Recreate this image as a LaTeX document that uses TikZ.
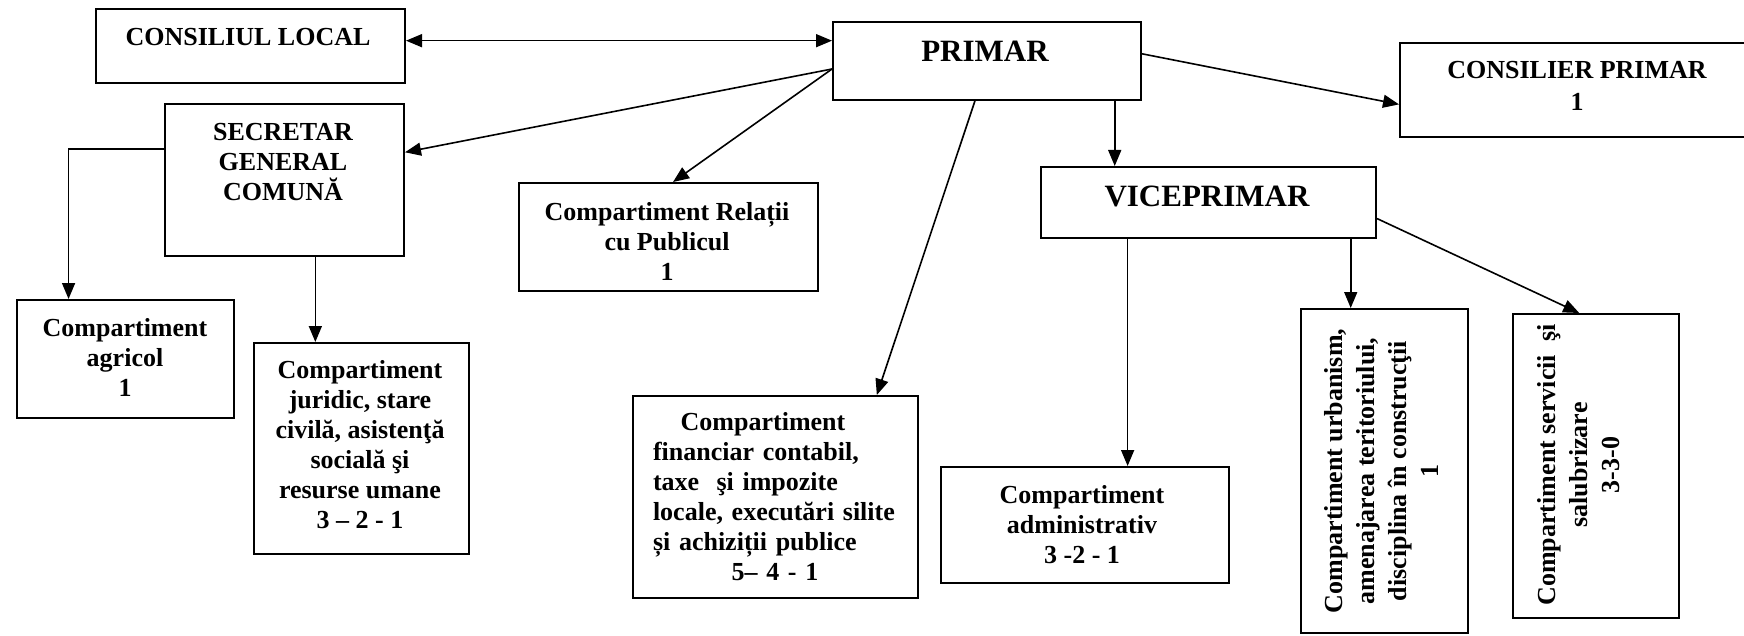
\documentclass[tikz,border=0pt]{standalone}
\usepackage{fontspec}
\setmainfont{Liberation Serif}
\usetikzlibrary{arrows.meta,calc}
\begin{document}
\begin{tikzpicture}[x=0.5pt,y=-0.5pt,
  box/.style={draw, line width=1pt, inner sep=0pt, anchor=north west},
  txt/.style={font=\bfseries\fontsize{13}{15}\selectfont, align=center, inner sep=0pt},
  txtv/.style={font=\bfseries\fontsize{13}{16}\selectfont, align=center, inner sep=0pt},
  big/.style={font=\bfseries\fontsize{15.5}{18}\selectfont, inner sep=0pt},
  conn/.style={line width=0.8pt},
  arr/.style={conn, -{Triangle[length=8pt,width=6.5pt]}},
  biarr/.style={conn, {Triangle[length=8pt,width=6.5pt]}-{Triangle[length=8pt,width=6.5pt]}}]
\useasboundingbox (0,0) rectangle (1744,636);
\clip (0,0) rectangle (1744,636);
% boxes
\node[box, minimum width=154.5pt, minimum height=37pt] (cl) at (95,8) {};
\node[box, minimum width=154pt, minimum height=39pt] (pr) at (832,21) {};
\node[box, minimum width=185pt, minimum height=47pt] (cp) at (1399,42) {};
\node[box, minimum width=119.5pt, minimum height=76pt] (sec) at (164,103) {};
\node[box, minimum width=149.5pt, minimum height=54pt] (rel) at (518,182) {};
\node[box, minimum width=167.5pt, minimum height=35.5pt] (vice) at (1040,166) {};
\node[box, minimum width=108.5pt, minimum height=59pt] (agr) at (16,299) {};
\node[box, minimum width=107.5pt, minimum height=105.5pt] (jur) at (253,342) {};
\node[box, minimum width=142.5pt, minimum height=101pt] (fin) at (632,395) {};
\node[box, minimum width=144pt, minimum height=58pt] (adm) at (940,466) {};
\node[box, minimum width=83.5pt, minimum height=162pt] (urb) at (1300,308) {};
\node[box, minimum width=83pt, minimum height=152pt] (srv) at (1512,313) {};
% texts
\node[txt] (clT) at (248,37) {CONSILIUL LOCAL};
\node[big] (prT) at (985,51) {PRIMAR};
\node[txtv] (cpT) at (1577,86) {CONSILIER PRIMAR\\1};
\node[txt] (secT) at (283,162) {SECRETAR\\GENERAL\\COMUNĂ};
\node[txt] (relT) at (667,241) {Compartiment Relații\\cu Publicul\\1};
\node[big] (viceT) at (1207,196) {VICEPRIMAR};
\node[txt] (agrT) at (125,357) {Compartiment\\agricol\\1};
\node[txt] (jurT) at (360,445) {Compartiment\\juridic, stare\\civilă, asistenţă\\socială şi\\resurse umane\\3 – 2 - 1};
\node[txt, align=left, text width=122pt] (finT) at (775,497) {\makebox[122pt]{Compartiment\hspace*{12pt}}\\financiar contabil,\\taxe~ şi impozite\\locale, executări silite\\și achiziții publice\\\makebox[122pt]{5– 4 - 1}};
\node[txt] (admT) at (1082,525) {Compartiment\\administrativ\\3 -2 - 1};
\node[txtv, rotate=90] (urbT) at (1381,471) {Compartiment urbanism,\\amenajarea teritoriului,\\disciplina în construcţii\\1};
\node[txtv, rotate=90] (srvT) at (1579,465) {Compartiment servicii~ şi\\salubrizare\\3-3-0};
% connectors
\coordinate (a1) at ($(cl.north east)!0.43!(cl.south east)$);
\draw[biarr] (a1) -- (a1 -| pr.west);
\coordinate (p1) at ($(pr.north west)!0.6!(pr.south west)$);
\draw[arr] (p1) -- ($(sec.north east)!0.32!(sec.south east)$);
\draw[arr] (p1) -- ($(rel.north west)!0.515!(rel.north east)$);
\draw[arr] ($(pr.north east)!0.41!(pr.south east)$) -- ($(cp.north west)!0.65!(cp.south west)$);
\coordinate (b1) at ($(pr.south west)!0.912!(pr.south east)$);
\draw[arr] (b1) -- (b1 |- vice.north);
\draw[arr] ($(pr.south west)!0.461!(pr.south east)$) -- ($(fin.north west)!0.853!(fin.north east)$);
\coordinate (c1) at ($(vice.south west)!0.26!(vice.south east)$);
\draw[arr] (c1) -- (c1 |- adm.north);
\coordinate (c2) at ($(vice.south west)!0.922!(vice.south east)$);
\draw[arr] (c2) -- (c2 |- urb.north);
\draw[arr] ($(vice.north east)!0.72!(vice.south east)$) -- ($(srv.north west)!0.40!(srv.north east)$);
\draw[arr] ($(sec.north west)!0.30!(sec.south west)$) -| ($(agr.north west)!0.24!(agr.north east)$);
\coordinate (d1) at ($(sec.south west)!0.628!(sec.south east)$);
\draw[arr] (d1) -- (d1 |- jur.north);
\end{tikzpicture}
\end{document}
